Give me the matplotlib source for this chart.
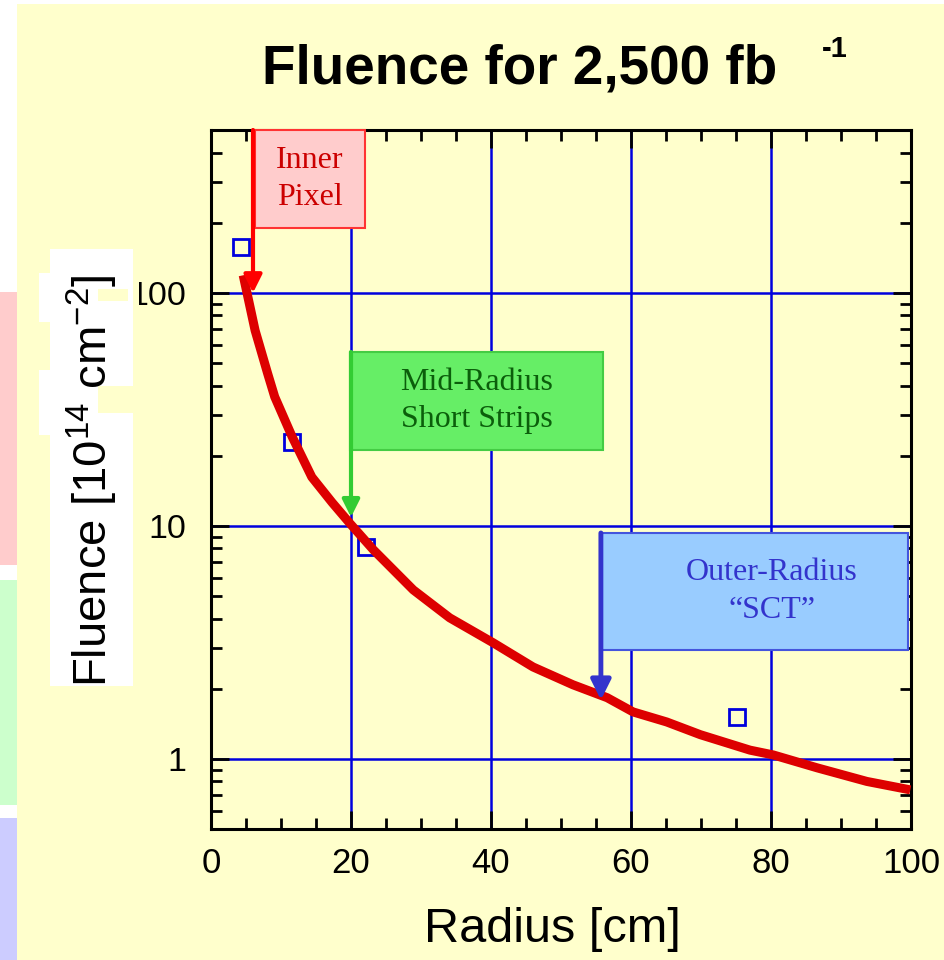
import matplotlib
matplotlib.use('Agg')
import numpy as np
import matplotlib.pyplot as plt
from matplotlib.patches import Rectangle
from matplotlib.ticker import MultipleLocator, LogLocator, NullFormatter

# Fluence curve (radius in cm, fluence in 1e14 cm^-2)
radius_curve = [4.6, 6.3, 8.1, 9.1, 11.6, 14.4, 17.3, 19.9, 23.2, 28.9, 34.1,
                40.3, 46.0, 51.7, 56.6, 60.3, 65.1, 69.9, 77.0, 80.3, 86.6,
                93.7, 99.9]
fluence_curve = [119, 69, 45, 35.8, 24.1, 16.2, 12.6, 10.2, 7.89, 5.31, 4.03,
                 3.15, 2.48, 2.08, 1.83, 1.59, 1.44, 1.27, 1.09, 1.04, 0.915,
                 0.80, 0.736]

# measured points
radius_pts = [4.3, 11.6, 22.1, 75.1]
fluence_pts = [157, 22.9, 8.14, 1.51]

# detector regions: label, arrow x, arrow tip y
region_labels = ['Inner\nPixel', 'Mid-Radius\nShort Strips', 'Outer-Radius\n\u201cSCT\u201d']
region_x = [6.0, 20.0, 55.7]
region_tip = [100, 10.9, 1.79]

x_ticks = [0, 20, 40, 60, 80, 100]
y_ticks = [1, 10, 100]
y_ticklabels = ['1', '10', '100']

plt.rcParams['font.family'] = ['Liberation Sans', 'DejaVu Sans']
plt.rcParams['mathtext.fontset'] = 'custom'
plt.rcParams['mathtext.rm'] = 'Liberation Sans'
plt.rcParams['mathtext.default'] = 'regular'

W, H = 945, 960
fig = plt.figure(figsize=(W / 100, H / 100), dpi=100)
fig.patch.set_facecolor('white')


def fx(p):
    return p / W


def fy(p):
    return 1 - p / H


def frect(x0, y0, x1, y1, color, z):
    # rectangle on the figure, given in pixels from top-left
    fig.patches.append(Rectangle((fx(x0), fy(y1)), fx(x1) - fx(x0), fy(y0) - fy(y1),
                                 transform=fig.transFigure, facecolor=color,
                                 edgecolor='none', zorder=z))


# slide background and the coloured strips on the left
frect(17, 4, 945, 960, '#FFFFCC', -10)
frect(0, 292, 17, 565, '#FFCCCC', -10)
frect(0, 580, 17, 805, '#CCFFCC', -10)
frect(0, 818, 17, 960, '#CCCCFF', -10)

ax = fig.add_axes([fx(211), fy(829), fx(911) - fx(211), fy(130) - fy(829)])
ax.set_facecolor('none')
ax.set_yscale('log')
ax.set_xlim(0, 100)
ax.set_ylim(0.5, 500)

ax.xaxis.set_major_locator(MultipleLocator(20))
ax.xaxis.set_minor_locator(MultipleLocator(5))
ax.set_xticks(x_ticks)
ax.set_xticklabels([str(t) for t in x_ticks])
ax.set_yticks(y_ticks)
ax.set_yticklabels(y_ticklabels)
ax.yaxis.set_minor_locator(LogLocator(base=10, subs=np.arange(2, 10)))
ax.yaxis.set_minor_formatter(NullFormatter())

ax.tick_params(which='both', direction='in', top=True, right=True,
               width=2, color='black')
ax.tick_params(which='major', length=13)
ax.tick_params(axis='x', which='major', pad=13, labelsize=25)
ax.tick_params(axis='y', which='major', pad=18, labelsize=24.5)
ax.tick_params(which='minor', length=8)
for s in ax.spines.values():
    s.set_linewidth(2.2)

ax.set_axisbelow(True)
ax.grid(True, which='major', color='#0000DD', linewidth=1.8)

ax.plot(radius_pts, fluence_pts, linestyle='none', marker='s', markersize=11,
        markerfacecolor='none', markeredgecolor='#0000DD', markeredgewidth=2,
        zorder=2)
ax.plot(radius_curve, fluence_curve, color='#DD0000', linewidth=6.5,
        solid_capstyle='butt', solid_joinstyle='round', zorder=3)

# annotation boxes (axes fraction) with arrows hanging from the left edge
boxes = [(0.0629, 0.8598, 0.2200, 1.0000),
         (0.1986, 0.5422, 0.5600, 0.6824),
         (0.5557, 0.2561, 0.9957, 0.4235)]
fills = ['#FFCCCC', '#66EE66', '#99CCFF']
edges = ['#FF3333', '#44CC44', '#4455DD']
text_cols = ['#CC0000', '#0B5E0B', '#3333CC']
arrow_cols = ['#FF0000', '#33CC33', '#3333CC']
arrow_lw = [3.0, 3.0, 3.5]
arrow_ms = [27, 26, 30]
text_x = [None, None, 0.801]

for i in range(3):
    x0, y0, x1, y1 = boxes[i]
    ax.add_patch(Rectangle((x0, y0), x1 - x0, y1 - y0, transform=ax.transAxes,
                           facecolor=fills[i], edgecolor=edges[i], linewidth=1.5,
                           clip_on=False, zorder=5))
    tx = text_x[i] if text_x[i] is not None else (x0 + x1) / 2
    ax.text(tx, (y0 + y1) / 2, region_labels[i], transform=ax.transAxes,
            ha='center', va='center', multialignment='center',
            fontsize=23, family='Liberation Serif', color=text_cols[i],
            linespacing=1.4, zorder=6)
    ax.annotate('', xy=(region_x[i], region_tip[i]), xycoords='data',
                xytext=(region_x[i], y1), textcoords=('data', 'axes fraction'),
                arrowprops=dict(arrowstyle='-|>', color=arrow_cols[i],
                                lw=arrow_lw[i], mutation_scale=arrow_ms[i],
                                shrinkA=0, shrinkB=0),
                annotation_clip=False, zorder=7)

# white label box behind the y label (as on the slide)
frect(50, 249, 133, 686, 'white', 5)
frect(39, 273, 50, 322, 'white', 5)
frect(39, 370, 50, 435, 'white', 5)
frect(98, 289, 128, 301, '#FFFFCC', 6)
frect(98, 386, 133, 413, '#FFFFCC', 6)
frect(133, 280, 139, 308, '#FFFFCC', 6)

fig.text(fx(107), fy(481), 'Fluence [10$^{14}$ cm$^{-2}$]', rotation=90,
         rotation_mode='anchor', ha='center', va='baseline', fontsize=34,
         zorder=10)
fig.text(fx(552), fy(942), 'Radius [cm]', ha='center', va='baseline',
         fontsize=35)
fig.text(fx(262), fy(83), 'Fluence for 2,500 fb', ha='left', va='baseline',
         fontsize=39.5, fontweight='bold')
fig.text(fx(822), fy(57), '-1', ha='left', va='baseline', fontsize=21,
         fontweight='bold')

fig.savefig('out.png', dpi=100, facecolor=fig.get_facecolor())
